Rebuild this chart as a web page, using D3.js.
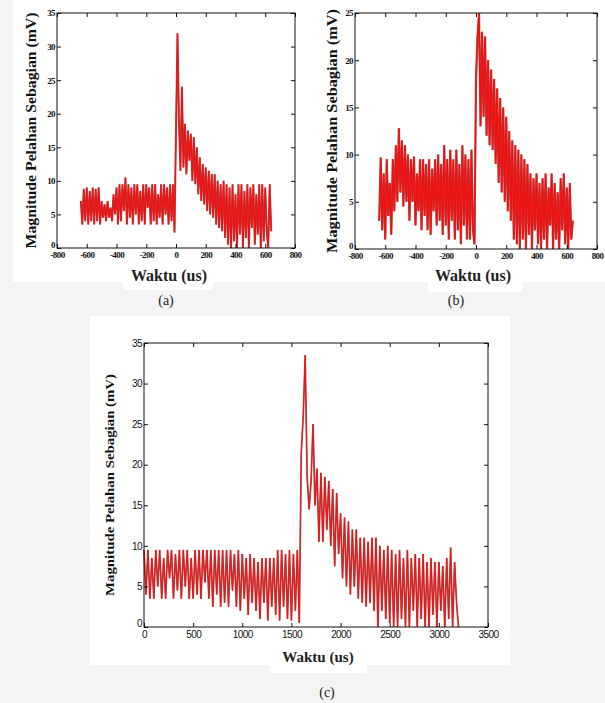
<!DOCTYPE html>
<html>
<head>
<meta charset="utf-8">
<script src="https://cdn.jsdelivr.net/npm/d3@7/dist/d3.min.js"></script>
<style>
body { margin: 0; background: #fff; }
svg { display: block; }
</style>
</head>
<body>
<svg id="fig" width="605" height="703"></svg>
<script>
// ---- data ----
// (a) sampled every 10 us from -640 us
var startA = -640, stepA = 10;
var magA = [
  7, 3.5, 8.8, 4, 9, 3.5, 8.5, 4, 9, 3.5,
  8.8, 4, 9, 3.5, 7, 4.5, 6.5, 4, 7, 4.5,
  6, 4, 8, 5, 9, 3.5, 9.5, 4, 9.5, 5.5,
  10.5, 3.5, 9.5, 4.5, 9, 3.5, 9.5, 5, 9.5, 3.5,
  8.5, 4, 9.5, 3.5, 9.5, 6, 9, 3.5, 9.5, 4,
  9.5, 3.5, 8, 4.5, 9.5, 3.5, 9.5, 5, 9, 3.5,
  9.5, 4, 9.5, 2.3, 17.5, 32, 19, 11.5, 24, 12,
  18.5, 11, 17.5, 13, 17, 10, 16.5, 9.5, 15, 8,
  13.5, 7, 12.5, 6.5, 12, 5.5, 11.5, 5, 11, 4.5,
  11, 3.5, 10, 3, 9.5, 2.5, 10, 1.5, 9.5, 0.5,
  9, 0, 9.5, 1, 8, 0, 9.5, 2, 9.5, 0,
  8.5, 1.5, 9.5, 0, 9, 3, 9.5, 0.5, 8, 2,
  9.5, 0, 9.5, 1, 9, 2.5, 0, 9.5, 2.5
];

// (b) sampled every 10 us from -640 us
var startB = -640, stepB = 10;
var magB = [
  3, 9.7, 2, 8, 1, 9.5, 3.5, 7, 1.5, 9.5,
  4, 11, 5, 12.8, 6, 11.5, 4.5, 11, 5, 10,
  3, 9.5, 5, 9.8, 2.5, 8, 4, 9.5, 2, 9.5,
  3.5, 9, 2, 9.5, 1.5, 8.5, 4, 9.5, 2.5, 10,
  3, 9, 1.5, 11, 2.5, 9.5, 1, 10.5, 3, 9.5,
  1, 10.5, 2, 9, 0.5, 11, 2.5, 10, 1, 9.5,
  1, 10.5, 2, 0.5, 18, 22.5, 25, 13, 23, 14,
  22.5, 12, 20, 11, 19, 10.5, 18, 9, 17, 7,
  16, 6, 15, 5, 14, 4, 12.5, 3, 11.5, 1,
  11, 0.5, 10.5, 0, 10, 1, 9.5, 0, 9, 1.5,
  8, 0, 7.5, 2, 8, 0.5, 7, 0, 7.5, 1,
  8, 0, 6.5, 2.5, 8, 0, 7, 1, 6, 0,
  7.5, 2, 8, 0.5, 6.5, 0, 7, 1, 3
];

// (c) sampled every 20 us from 0 us
var startC = 0, stepC = 20;
var magC = [
  9.5, 4, 9.5, 3.5, 8.5, 3.5, 9.5, 5, 9.5, 3.5,
  8.5, 3.5, 9.5, 6, 9.5, 3.5, 9, 4.5, 9.5, 3.5,
  9.5, 5, 9.5, 3.5, 8.5, 3.5, 9.5, 4, 9.5, 3.5,
  9.5, 5.5, 9.5, 3.5, 9.5, 2.5, 9.5, 4, 9.5, 2.5,
  9.5, 3, 9.5, 2.5, 9.5, 4.5, 9, 2.5, 9.5, 2,
  9, 3.5, 8.5, 1.5, 9, 3, 8.5, 2, 8, 1,
  8.5, 3, 8.5, 0.8, 8.5, 2.5, 8.5, 1.5, 9.5, 0.8,
  9.5, 2.5, 9, 1, 9.5, 0.8, 9, 2, 9.5, 0.5,
  21.5, 26, 33.5, 18.5, 14.5, 18, 25, 15, 19.5, 10.5,
  19, 10.5, 18.5, 12, 18, 10, 17, 7.5, 16.5, 9,
  14, 6, 13.5, 5, 13, 4, 12, 5, 12, 3.5,
  11, 3, 11, 2.5, 10.5, 3, 11, 2, 11, 0,
  10, 2, 9.5, 1, 10, 0.5, 9.5, 0, 9, 0,
  9.5, 1, 8.5, 0, 9.5, 0, 8.5, 2, 9, 0,
  8.5, 1, 9, 0, 8, 0, 8.5, 1.5, 8, 0,
  8, 2, 7.5, 0, 8.5, 1, 9.8, 0, 8, 3,
  0
];

var ticksAB_x = [-800, -600, -400, -200, 0, 200, 400, 600, 800];
var ticksA_y = [0, 5, 10, 15, 20, 25, 30, 35];
var ticksB_y = [0, 5, 10, 15, 20, 25];
var ticksC_x = [0, 500, 1000, 1500, 2000, 2500, 3000, 3500];
var ticksC_y = [0, 5, 10, 15, 20, 25, 30, 35];

var yTitle = "Magnitude Pelahan Sebagian (mV)";
var xTitle = "Waktu (us)";

var serif = "'Liberation Serif', 'Times New Roman', Tinos, 'DejaVu Serif', serif";
var sans = "'Liberation Sans', Arial, Arimo, 'DejaVu Sans', sans-serif";

var svg = d3.select("#fig");

// paper background, scanned look
svg.append("rect").attr("width", 605).attr("height", 703).attr("fill", "#f4f4f4");
svg.append("rect").attr("x", 13).attr("y", 0).attr("width", 592).attr("height", 282).attr("fill", "#fff");
svg.append("rect").attr("x", 90).attr("y", 316).attr("width", 420).attr("height", 349).attr("fill", "#fff");
svg.append("rect").attr("x", 123).attr("y", 262).attr("width", 90).attr("height", 28).attr("fill", "#fff");
svg.append("rect").attr("x", 428).attr("y", 262).attr("width", 94).attr("height", 30).attr("fill", "#fff");
svg.append("rect").attr("x", 270).attr("y", 645).attr("width", 97).attr("height", 28).attr("fill", "#fff");

function drawPanel(p) {
    var x = d3.scaleLinear().domain(p.xDomain).range([p.left, p.right]);
    var y = d3.scaleLinear().domain(p.yDomain).range([p.bottom, p.top]);
    var g = svg.append("g");

    var line = d3.line()
        .x(function (d, i) { return x(p.start + i * p.step); })
        .y(function (d) { return y(d); });

    // dark red under-stroke + bright red on top, like the scanned trace
    g.append("path").datum(p.values)
        .attr("d", line)
        .attr("fill", "none")
        .attr("stroke", "#8a0000")
        .attr("stroke-width", p.lw + 0.8)
        .attr("stroke-opacity", 0.7);
    g.append("path").datum(p.values)
        .attr("d", line)
        .attr("fill", "none")
        .attr("stroke", "#f01010")
        .attr("stroke-width", p.lw);

    var fmt = function (d) { return d; };
    var gx = g.append("g").attr("transform", "translate(0," + p.bottom + ")")
        .call(d3.axisBottom(x).tickValues(p.xTicks).tickFormat(fmt).tickSizeInner(-4).tickSizeOuter(0).tickPadding(4));
    var gy = g.append("g").attr("transform", "translate(" + p.left + ",0)")
        .call(d3.axisLeft(y).tickValues(p.yTicks).tickFormat(fmt).tickSizeInner(-4).tickSizeOuter(0).tickPadding(2));
    var gt = g.append("g").attr("transform", "translate(0," + p.top + ")")
        .call(d3.axisTop(x).tickValues(p.xTicks).tickFormat("").tickSizeInner(-4).tickSizeOuter(0));
    var gr = g.append("g").attr("transform", "translate(" + p.right + ",0)")
        .call(d3.axisRight(y).tickValues(p.yTicks).tickFormat("").tickSizeInner(-4).tickSizeOuter(0));

    [gx, gy, gt, gr].forEach(function (a) {
        a.select(".domain").remove();
        a.selectAll("line").attr("stroke", "#111");
        a.selectAll("text")
            .attr("fill", "#111")
            .style("font-family", p.tickFont)
            .style("font-size", p.tickSize + "px")
            .style("font-weight", p.tickWeight)
            .style("letter-spacing", "-0.6px");
    });
    // the zero label sits a little above the corner
    gy.selectAll(".tick").filter(function (d) { return d === 0; })
        .select("text").attr("dy", "-0.1em");

    g.append("rect")
        .attr("x", p.left).attr("y", p.top)
        .attr("width", p.right - p.left).attr("height", p.bottom - p.top)
        .attr("fill", "none").attr("stroke", "#111").attr("stroke-width", 1);

    g.append("text")
        .attr("transform", "translate(" + p.yTitleX + "," + ((p.top + p.bottom) / 2) + ") rotate(-90)")
        .attr("text-anchor", "middle")
        .attr("dy", "0.35em")
        .attr("textLength", p.yTitleLen)
        .attr("lengthAdjust", "spacingAndGlyphs")
        .style("font-family", serif)
        .style("font-weight", "bold")
        .style("font-size", p.yTitleSize + "px")
        .attr("fill", "#111")
        .text(yTitle);

    g.append("text")
        .attr("x", (p.left + p.right) / 2 - p.xTitleShift)
        .attr("y", p.xTitleY)
        .attr("text-anchor", "middle")
        .style("font-family", serif)
        .style("font-weight", "bold")
        .style("font-size", p.xTitleSize + "px")
        .attr("fill", "#222")
        .text(xTitle);

    g.append("text")
        .attr("x", p.capX).attr("y", p.capY)
        .attr("text-anchor", "middle")
        .style("font-family", serif)
        .style("font-size", "14px")
        .attr("fill", "#222")
        .text(p.caption);
}

drawPanel({
    left: 57, right: 295, top: 13, bottom: 248,
    xDomain: [-800, 800], yDomain: [0, 35],
    xTicks: ticksAB_x, yTicks: ticksA_y,
    start: startA, step: stepA, values: magA, lw: 1.2,
    tickFont: serif, tickSize: 9, tickWeight: "bold",
    yTitleX: 31, yTitleLen: 236, yTitleSize: 14,
    xTitleY: 281, xTitleSize: 16, xTitleShift: 7,
    capX: 166, capY: 305, caption: "(a)"
});

drawPanel({
    left: 355, right: 597, top: 13, bottom: 249,
    xDomain: [-800, 800], yDomain: [0, 25],
    xTicks: ticksAB_x, yTicks: ticksB_y,
    start: startB, step: stepB, values: magB, lw: 1.4,
    tickFont: serif, tickSize: 9, tickWeight: "bold",
    yTitleX: 332, yTitleLen: 244, yTitleSize: 14,
    xTitleY: 281, xTitleSize: 16, xTitleShift: 3,
    capX: 456, capY: 305, caption: "(b)"
});

drawPanel({
    left: 144, right: 488, top: 343, bottom: 627,
    xDomain: [0, 3500], yDomain: [0, 35],
    xTicks: ticksC_x, yTicks: ticksC_y,
    start: startC, step: stepC, values: magC, lw: 0.9,
    tickFont: sans, tickSize: 10, tickWeight: "normal",
    yTitleX: 109, yTitleLen: 222, yTitleSize: 13,
    xTitleY: 662, xTitleSize: 15, xTitleShift: -2,
    capX: 327, capY: 697, caption: "(c)"
});
</script>
</body>
</html>
